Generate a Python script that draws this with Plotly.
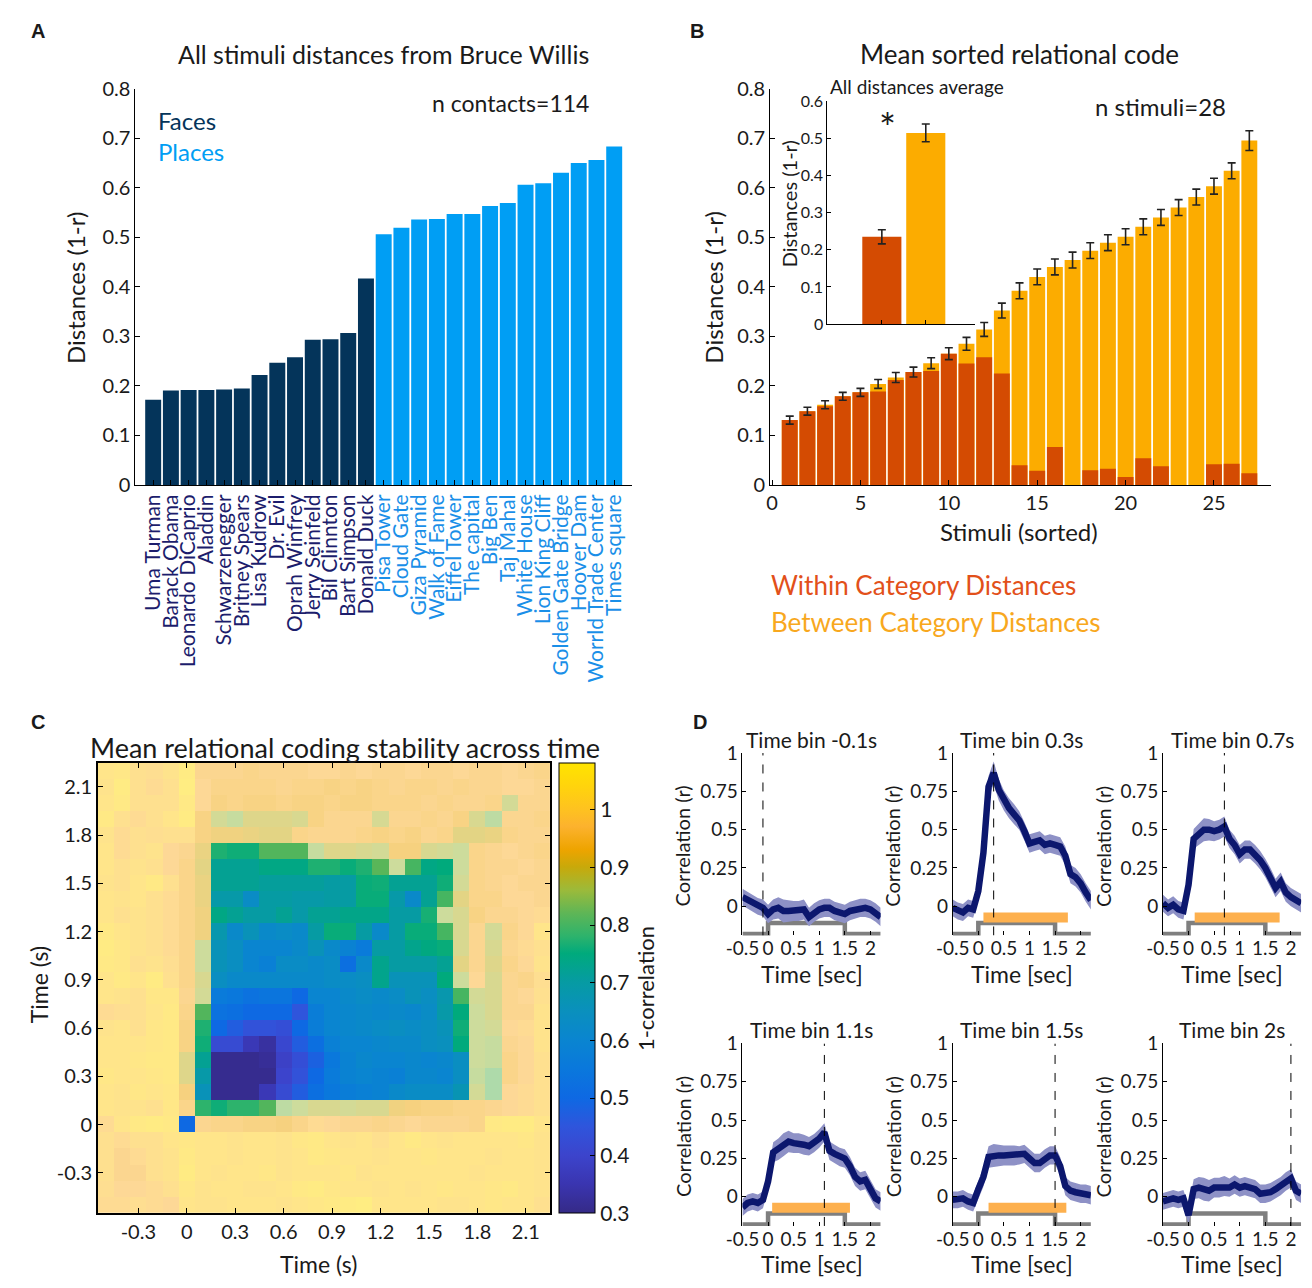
import plotly.graph_objects as go

PAGE_W, PAGE_H = 1312, 1288
OFF = 0
FW, FH = PAGE_W - 2 * OFF, PAGE_H - 2 * OFF
FONT = "Lato"
INK = "#1a1a1a"

# ---------------- Panel A data ----------------
a_names = ["Uma Turman", "Barack Obama", "Leonardo DiCaprio", "Aladdin", "Schwarzenegger",
           "Britney Spears", "Lisa Kudrow", "Dr. Evil", "Oprah Winfrey", "Jerry Seinfeld",
           "Bil Clinnton", "Bart Simpson", "Donald Duck", "Pisa Tower", "Cloud Gate",
           "Giza Pyramid", "Walk of Fame", "Eiffel Tower", "The capital", "Big Ben",
           "Taj Mahal", "White House", "Lion King Cliff", "Golden Gate Bridge", "Hoover Dam",
           "Worrld Trade Center", "Times square"]
a_category = ["Faces", "Faces", "Faces", "Faces", "Faces", "Faces", "Faces", "Faces", "Faces",
              "Faces", "Faces", "Faces", "Faces", "Places", "Places", "Places", "Places",
              "Places", "Places", "Places", "Places", "Places", "Places", "Places", "Places",
              "Places", "Places"]
a_distances = [0.172, 0.191, 0.192, 0.192, 0.193, 0.195, 0.222, 0.247, 0.258, 0.293, 0.294,
               0.307, 0.417, 0.506, 0.519, 0.536, 0.537, 0.547, 0.547, 0.563, 0.569, 0.606,
               0.609, 0.630, 0.650, 0.656, 0.683]
a_yticks = [0, 0.1, 0.2, 0.3, 0.4, 0.5, 0.6, 0.7, 0.8]

# ---------------- Panel B data ----------------
b_stimuli = [1, 2, 3, 4, 5, 6, 7, 8, 9, 10, 11, 12, 13, 14, 15, 16, 17, 18, 19, 20,
             21, 22, 23, 24, 25, 26, 27]
b_between = [0.131, 0.149, 0.162, 0.179, 0.187, 0.204, 0.217, 0.228, 0.246, 0.265, 0.285,
             0.314, 0.352, 0.392, 0.420, 0.440, 0.454, 0.473, 0.489, 0.501, 0.521, 0.540,
             0.560, 0.581, 0.603, 0.634, 0.695]
b_within = [0.131, 0.149, 0.159, 0.179, 0.187, 0.189, 0.212, 0.228, 0.230, 0.265, 0.245,
            0.258, 0.225, 0.040, 0.029, 0.077, 0.0, 0.030, 0.033, 0.016, 0.054, 0.038,
            0.0, 0.0, 0.042, 0.043, 0.024]
b_err = [0.008, 0.008, 0.008, 0.008, 0.008, 0.009, 0.010, 0.010, 0.011, 0.012, 0.013, 0.014,
         0.015, 0.016, 0.016, 0.016, 0.016, 0.016, 0.016, 0.016, 0.016, 0.016, 0.016, 0.016,
         0.016, 0.016, 0.020]
b_xticks = [0, 5, 10, 15, 20, 25]

inset_groups = [1, 2]
inset_values = [0.235, 0.515]
inset_err = [0.019, 0.024]
inset_yticks = [0, 0.1, 0.2, 0.3, 0.4, 0.5, 0.6]

# ---------------- Panel C data ----------------
time_bins = [-0.5, -0.4, -0.3, -0.2, -0.1, 0.0, 0.1, 0.2, 0.3, 0.4, 0.5, 0.6, 0.7, 0.8,
             0.9, 1.0, 1.1, 1.2, 1.3, 1.4, 1.5, 1.6, 1.7, 1.8, 1.9, 2.0, 2.1, 2.2]
c_ticks = [-0.3, 0, 0.3, 0.6, 0.9, 1.2, 1.5, 1.8, 2.1]
c_ticklabels = ["-0.3", "0", "0.3", "0.6", "0.9", "1.2", "1.5", "1.8", "2.1"]
# rows from time 2.2 (top) down to -0.5 (bottom); columns -0.5 ... 2.2
stability = [
    [1.02,1.03,1.00,0.99,1.01,1.05,0.96,0.96,0.96,0.95,0.96,0.96,0.96,0.97,0.97,0.96,0.97,0.96,0.96,0.97,0.96,0.96,0.97,0.96,0.96,0.97,0.96,0.95],
    [1.01,1.05,1.00,0.98,1.00,1.06,0.97,0.95,0.95,0.95,0.95,0.96,0.95,0.95,0.94,0.95,0.94,0.95,0.96,0.95,0.95,0.96,0.95,0.96,0.96,0.97,0.97,0.96],
    [1.02,1.04,1.00,1.00,1.00,1.04,0.97,0.94,0.95,0.94,0.94,0.95,0.94,0.94,0.95,0.94,0.94,0.95,0.95,0.95,0.96,0.95,0.96,0.96,0.95,0.87,0.96,0.96],
    [1.04,1.00,0.98,1.00,1.02,1.05,0.94,0.87,0.85,0.89,0.89,0.89,0.88,0.94,0.96,0.96,0.96,0.875,0.96,0.96,0.95,0.96,0.94,0.88,0.84,0.96,0.96,0.95],
    [1.01,0.98,1.00,0.99,1.00,1.00,0.94,0.92,0.92,0.91,0.90,0.90,0.95,0.96,0.96,0.96,0.95,0.94,0.95,0.94,0.96,0.95,0.90,0.90,0.91,0.95,0.96,0.96],
    [1.02,0.98,1.00,1.01,0.97,0.96,0.91,0.77,0.76,0.76,0.81,0.81,0.81,0.85,0.89,0.89,0.88,0.87,0.93,0.93,0.88,0.87,0.86,0.95,0.96,0.97,0.96,0.95],
    [1.02,1.00,1.01,1.00,0.97,0.95,0.90,0.72,0.72,0.72,0.74,0.74,0.74,0.77,0.77,0.755,0.77,0.815,0.86,0.80,0.74,0.75,0.86,0.95,0.96,0.96,0.97,0.96],
    [1.01,1.00,1.02,1.04,1.00,0.95,0.91,0.72,0.72,0.72,0.71,0.71,0.71,0.71,0.70,0.70,0.755,0.76,0.72,0.72,0.72,0.76,0.87,0.95,0.96,0.97,0.96,0.96],
    [1.02,1.01,1.02,1.00,0.98,0.95,0.91,0.69,0.69,0.63,0.70,0.70,0.69,0.69,0.70,0.70,0.755,0.755,0.69,0.62,0.72,0.80,0.90,0.95,0.95,0.97,0.97,0.96],
    [1.02,1.00,1.01,1.00,0.98,0.95,0.92,0.74,0.72,0.70,0.70,0.72,0.69,0.72,0.72,0.735,0.735,0.735,0.70,0.70,0.765,0.86,0.88,0.94,0.96,0.96,0.97,0.98],
    [1.04,1.02,1.01,1.00,0.98,0.95,0.92,0.68,0.62,0.66,0.62,0.63,0.62,0.70,0.755,0.755,0.70,0.62,0.70,0.755,0.755,0.80,0.88,0.96,0.87,0.95,0.97,1.02],
    [1.05,1.03,1.01,1.00,0.98,0.95,0.86,0.66,0.64,0.60,0.60,0.60,0.62,0.66,0.62,0.59,0.56,0.70,0.70,0.73,0.745,0.755,0.88,0.96,0.88,0.96,0.98,1.00],
    [1.04,1.03,1.00,1.01,0.99,0.95,0.86,0.66,0.64,0.60,0.58,0.63,0.63,0.62,0.63,0.52,0.62,0.73,0.70,0.70,0.70,0.72,0.90,0.96,0.89,0.95,0.97,1.01],
    [1.02,1.04,1.02,1.05,1.00,0.95,0.88,0.64,0.62,0.62,0.62,0.62,0.62,0.62,0.63,0.63,0.64,0.73,0.66,0.66,0.66,0.75,0.86,0.97,0.88,0.96,0.95,0.99],
    [1.02,1.01,1.00,1.03,1.03,0.96,0.87,0.56,0.55,0.53,0.54,0.54,0.50,0.60,0.60,0.62,0.63,0.62,0.63,0.66,0.64,0.68,0.80,0.87,0.88,0.96,0.97,1.00],
    [0.98,0.99,1.00,1.02,1.04,0.95,0.81,0.53,0.52,0.50,0.50,0.50,0.45,0.57,0.60,0.61,0.62,0.61,0.62,0.61,0.63,0.69,0.75,0.86,0.88,0.96,0.96,1.01],
    [1.01,1.02,1.00,1.03,1.04,0.94,0.77,0.50,0.47,0.44,0.44,0.43,0.50,0.57,0.60,0.61,0.62,0.63,0.64,0.63,0.64,0.66,0.76,0.86,0.87,0.97,0.98,1.01],
    [1.02,1.02,1.02,1.03,1.04,0.94,0.76,0.42,0.42,0.36,0.33,0.41,0.47,0.52,0.58,0.60,0.60,0.61,0.62,0.62,0.64,0.65,0.75,0.86,0.85,0.96,0.97,1.01],
    [1.02,1.02,1.03,1.04,1.04,0.89,0.72,0.31,0.31,0.31,0.32,0.39,0.43,0.48,0.55,0.59,0.61,0.60,0.60,0.61,0.60,0.61,0.64,0.86,0.85,0.95,0.97,1.00],
    [1.03,1.02,1.02,1.03,1.04,0.89,0.69,0.31,0.31,0.31,0.31,0.40,0.44,0.50,0.56,0.59,0.60,0.59,0.58,0.61,0.61,0.60,0.64,0.85,0.82,0.95,0.97,1.00],
    [1.02,1.01,1.03,1.02,1.03,0.93,0.66,0.31,0.31,0.31,0.36,0.42,0.47,0.52,0.55,0.57,0.58,0.59,0.62,0.63,0.63,0.63,0.67,0.87,0.82,0.97,0.98,1.00],
    [1.02,1.01,1.01,1.00,1.03,0.95,0.78,0.76,0.78,0.78,0.81,0.84,0.86,0.88,0.88,0.87,0.88,0.88,0.92,0.93,0.94,0.94,0.95,0.95,0.96,0.97,0.98,1.00],
    [0.98,1.02,1.04,1.05,1.04,0.50,0.96,0.95,0.95,0.94,0.94,0.93,0.95,0.98,0.97,0.96,0.96,0.95,0.96,0.97,0.96,0.96,0.96,0.95,1.04,1.05,1.05,1.02],
    [1.00,0.98,1.00,1.00,1.02,1.03,1.02,1.02,1.01,1.02,1.02,1.01,1.03,1.04,1.02,1.01,1.02,1.00,1.02,1.04,1.02,1.01,1.02,1.02,1.02,1.02,1.03,1.01],
    [1.00,0.96,0.98,1.00,1.01,1.04,1.02,1.02,1.01,1.02,1.02,1.01,1.02,1.04,1.03,1.02,1.02,1.01,1.02,1.02,1.03,1.02,1.02,1.02,1.01,1.02,1.02,1.01],
    [1.00,0.96,0.96,1.00,1.01,1.05,1.02,1.01,1.02,1.02,1.03,1.01,1.02,1.02,1.02,1.03,1.01,1.02,1.02,1.02,1.02,1.02,1.02,1.01,1.02,1.02,1.02,1.01],
    [0.99,0.97,0.97,0.98,1.00,1.03,1.01,1.02,1.02,1.01,1.01,1.02,1.04,1.05,1.03,1.02,1.02,1.01,1.02,1.01,1.02,1.03,1.02,1.02,1.03,1.04,1.02,1.01],
    [0.98,0.98,0.99,0.98,0.97,1.02,1.01,1.01,1.02,1.02,1.02,1.01,1.02,1.03,1.04,1.05,1.06,1.02,1.02,1.02,1.02,1.01,1.01,1.02,1.03,1.02,1.02,1.00],
]
# significance mask (1 = significant cell, drawn opaque), same row order
significant = [
    "0000000000000000000000000000",
    "0000000000000000000000000000",
    "0000000000000000000000000000",
    "0000000000000000000000000000",
    "0000000000000000000000000000",
    "0000000111111000000000000000",
    "0000000111111111110111000000",
    "0000000111111111111111000000",
    "0000000111111111111111000000",
    "0000000111111111111110000000",
    "0000000111111111111111000000",
    "0000000111111111111111000000",
    "0000000111111111111111000000",
    "0000000111111111111111000000",
    "0000000111111111111111100000",
    "0000001111111111111111100000",
    "0000001111111111111111100000",
    "0000001111111111111111100000",
    "0000001111111111111111100000",
    "0000001111111111111111100000",
    "0000001111111111111111100000",
    "0000001111100000000000000000",
    "0000010000000000000000000000",
    "0000000000000000000000000000",
    "0000000000000000000000000000",
    "0000000000000000000000000000",
    "0000000000000000000000000000",
    "0000000000000000000000000000",
]
cbar_ticks = [0.3, 0.4, 0.5, 0.6, 0.7, 0.8, 0.9, 1.0]
cbar_ticklabels = ["0.3", "0.4", "0.5", "0.6", "0.7", "0.8", "0.9", "1"]

# ---------------- Panel D data ----------------
d_titles = ["Time bin -0.1s", "Time bin 0.3s", "Time bin 0.7s",
            "Time bin 1.1s", "Time bin 1.5s", "Time bin 2s"]
d_bin_time = [-0.1, 0.3, 0.7, 1.1, 1.5, 2.0]
d_corr = [
    [0.06, 0.04, 0.02, 0.00, -0.01, -0.05, -0.02, -0.01, -0.03, -0.03, -0.03, -0.03, -0.02, -0.07,
     -0.04, -0.02, -0.01, -0.01, -0.03, -0.04, -0.05, -0.03, -0.02, -0.01, -0.01, -0.02, -0.04, -0.07],
    [-0.01, -0.03, -0.04, -0.01, -0.02, 0.10, 0.35, 0.78, 0.87, 0.76, 0.69, 0.64, 0.60, 0.56,
     0.49, 0.41, 0.42, 0.43, 0.40, 0.41, 0.40, 0.39, 0.33, 0.21, 0.19, 0.15, 0.09, 0.04],
    [0.02, -0.01, 0.01, -0.02, -0.03, 0.14, 0.44, 0.47, 0.50, 0.50, 0.49, 0.50, 0.52, 0.44,
     0.40, 0.34, 0.37, 0.37, 0.34, 0.30, 0.25, 0.19, 0.12, 0.16, 0.09, 0.06, 0.04, 0.02],
    [-0.07, -0.04, -0.03, -0.04, -0.02, 0.10, 0.29, 0.31, 0.34, 0.36, 0.35, 0.35, 0.34, 0.33,
     0.35, 0.38, 0.42, 0.30, 0.28, 0.26, 0.25, 0.20, 0.13, 0.10, 0.11, 0.05, -0.01, -0.03],
    [-0.02, -0.02, -0.01, -0.03, -0.04, 0.05, 0.13, 0.26, 0.27, 0.27, 0.27, 0.27, 0.27, 0.27,
     0.28, 0.25, 0.22, 0.22, 0.25, 0.27, 0.27, 0.20, 0.07, 0.04, 0.03, 0.02, 0.02, 0.01],
    [-0.03, -0.02, -0.01, -0.02, -0.01, -0.12, 0.05, 0.06, 0.05, 0.04, 0.06, 0.06, 0.07, 0.06,
     0.08, 0.06, 0.07, 0.06, 0.05, 0.02, 0.02, 0.03, 0.05, 0.07, 0.10, 0.12, 0.04, 0.02],
]
d_ci_half = [0.055, 0.055, 0.055, 0.055, 0.055, 0.06, 0.065, 0.07, 0.075, 0.07, 0.065, 0.065,
             0.065, 0.06, 0.06, 0.06, 0.06, 0.06, 0.06, 0.06, 0.06, 0.06, 0.06, 0.06, 0.06,
             0.06, 0.06, 0.06]
d_sig_start = [None, 0.10, 0.12, 0.08, 0.20, None]
d_sig_end = [None, 1.75, 1.78, 1.60, 1.72, None]
stim_on, stim_off = 0.0, 1.5
d_xticks = [-0.5, 0, 0.5, 1, 1.5, 2]
d_xticklabels = ["-0.5", "0", "0.5", "1", "1.5", "2"]
d_yticks = [0, 0.25, 0.5, 0.75, 1]
d_yticklabels = ["0", "0.25", "0.5", "0.75", "1"]

# ---------------- colours ----------------
FACE_COL = "#04345a"
PLACE_COL = "#009ef4"
FACE_TXT = "#1c1d6c"
PLACE_TXT = "#1a8fe8"
WITHIN_COL = "#d44b02"
BETWEEN_COL = "#fcac00"
LINE_COL = "#0c176e"
BAND_COL = "#8e91c6"
SIG_COL = "#fdb04e"
STIM_COL = "#7f7f7f"

colorscale = [
    [0.000, "#352a87"], [0.064, "#3a35b0"], [0.128, "#3c44cc"], [0.192, "#2f55dc"],
    [0.256, "#0e69e3"], [0.321, "#0a78dc"], [0.385, "#0a85d0"], [0.449, "#0a90bd"],
    [0.513, "#069ba3"], [0.577, "#00aa7c"], [0.615, "#2db36c"], [0.667, "#5fb656"],
    [0.718, "#9cba3a"], [0.769, "#c8a90a"], [0.808, "#eea400"], [0.859, "#fcb22e"],
    [0.897, "#fec220"], [0.949, "#ffd40c"], [1.000, "#ffe400"],
]


# helpers converting page pixel positions into paper coordinates
def xd(a, b):
    return [(a - OFF) / FW, (b - OFF) / FW]


def yd(top, bottom):
    return [1 - (bottom - OFF) / FH, 1 - (top - OFF) / FH]


def px(x):
    return (x - OFF) / FW


def py(y):
    return 1 - (y - OFF) / FH


annotations = []


def text(x, y, s, size, color=INK, xanchor="center", yanchor="middle", angle=0, family=FONT):
    annotations.append(dict(x=px(x), y=py(y), xref="paper", yref="paper", text=s,
                            showarrow=False, xanchor=xanchor, yanchor=yanchor,
                            textangle=angle, font=dict(size=size, color=color, family=family)))


fig = go.Figure()


def axis(size=20, **kw):
    d = dict(showline=True, linecolor="black", linewidth=1, ticks="inside", ticklen=5,
             tickcolor="black", showgrid=False, zeroline=False,
             tickfont=dict(family=FONT, size=size, color=INK))
    d.update(kw)
    return d


# ---------------- Panel A ----------------
a_colors = [FACE_COL if c == "Faces" else PLACE_COL for c in a_category]
a_ticktext = ["<span style='color:%s'>%s</span>" % (FACE_TXT if c == "Faces" else PLACE_TXT, n)
              for n, c in zip(a_names, a_category)]
a_pos = list(range(len(a_names)))
fig.add_trace(go.Bar(x=a_pos, y=a_distances, marker=dict(color=a_colors, line=dict(width=0)),
                     width=0.9, xaxis="x", yaxis="y", showlegend=False))

# ---------------- Panel B ----------------
fig.add_trace(go.Bar(x=b_stimuli, y=b_between, marker=dict(color=BETWEEN_COL, line=dict(width=0)),
                     width=0.9, xaxis="x2", yaxis="y2", showlegend=False))
fig.add_trace(go.Bar(x=b_stimuli, y=b_within, marker=dict(color=WITHIN_COL, line=dict(width=0)),
                     width=0.9, xaxis="x2", yaxis="y2", showlegend=False))
fig.add_trace(go.Scatter(x=b_stimuli, y=b_between, mode="markers",
                         marker=dict(size=1, color="rgba(0,0,0,0)"),
                         error_y=dict(type="data", array=b_err, color="#222222", thickness=1.6, width=4),
                         xaxis="x2", yaxis="y2", showlegend=False))
# inset
fig.add_trace(go.Bar(x=inset_groups, y=inset_values,
                     marker=dict(color=[WITHIN_COL, BETWEEN_COL], line=dict(width=0)),
                     width=0.89, xaxis="x3", yaxis="y3", showlegend=False))
fig.add_trace(go.Scatter(x=inset_groups, y=inset_values, mode="markers",
                         marker=dict(size=1, color="rgba(0,0,0,0)"),
                         error_y=dict(type="data", array=inset_err, color="#222222", thickness=1.6, width=4),
                         xaxis="x3", yaxis="y3", showlegend=False))

# ---------------- Panel C ----------------
rows_y = list(reversed(time_bins))
z_sig = [[v if m == "1" else None for v, m in zip(row, mask)] for row, mask in zip(stability, significant)]
fig.add_trace(go.Heatmap(x=time_bins, y=rows_y, z=stability, coloraxis="coloraxis", opacity=0.5,
                         xaxis="x4", yaxis="y4", zsmooth=False, hoverongaps=False))
fig.add_trace(go.Heatmap(x=time_bins, y=rows_y, z=z_sig, coloraxis="coloraxis",
                         xaxis="x4", yaxis="y4", zsmooth=False, hoverongaps=False))

# ---------------- Panel D ----------------
d_cols = [(735, 875), (948, 1088), (1161, 1301)]
d_rows = [(754, 940), (1050, 1236)]
D_XR = [-0.5, 2.2]
D_YR = [-0.19, 1.0]
STIM_LOW, STIM_HIGH = -0.18, -0.108
SIG_Y = -0.072

layout_axes = {}
for k in range(6):
    n = 5 + k
    xa, ya = "x%d" % n, "y%d" % n
    vals = d_corr[k]
    upper = [v + h for v, h in zip(vals, d_ci_half)]
    lower = [v - h for v, h in zip(vals, d_ci_half)]
    fig.add_trace(go.Scatter(x=[D_XR[0], stim_on, stim_on, stim_off, stim_off, D_XR[1]],
                             y=[STIM_LOW, STIM_LOW, STIM_HIGH, STIM_HIGH, STIM_LOW, STIM_LOW],
                             mode="lines", line=dict(color=STIM_COL, width=4.5),
                             xaxis=xa, yaxis=ya, showlegend=False, cliponaxis=False))
    if d_sig_start[k] is not None:
        fig.add_trace(go.Scatter(x=[d_sig_start[k], d_sig_end[k]], y=[SIG_Y, SIG_Y], mode="lines",
                                 line=dict(color=SIG_COL, width=10),
                                 xaxis=xa, yaxis=ya, showlegend=False))
    fig.add_trace(go.Scatter(x=time_bins + time_bins[::-1], y=upper + lower[::-1], fill="toself",
                             fillcolor=BAND_COL, line=dict(width=0), mode="lines",
                             xaxis=xa, yaxis=ya, showlegend=False))
    fig.add_trace(go.Scatter(x=time_bins, y=vals, mode="lines", line=dict(color=LINE_COL, width=6.5),
                             xaxis=xa, yaxis=ya, showlegend=False))
    fig.add_trace(go.Scatter(x=[d_bin_time[k], d_bin_time[k]], y=D_YR, mode="lines",
                             line=dict(color="black", width=1, dash="dash"),
                             xaxis=xa, yaxis=ya, showlegend=False))
    c0, c1 = d_cols[k % 3]
    r0, r1 = d_rows[k // 3]
    layout_axes["xaxis%d" % n] = axis(19, domain=xd(c0, c1), range=D_XR, tickvals=d_xticks,
                                      ticktext=d_xticklabels, showline=False, anchor=ya, ticklen=4,
                                      tickangle=0)
    layout_axes["yaxis%d" % n] = axis(19, domain=yd(r0, r1), range=D_YR, tickvals=d_yticks,
                                      ticktext=d_yticklabels, anchor=xa, ticklen=4)
    cx = (c0 + c1) / 2
    text(cx, r0 - 14, d_titles[k], 21)
    text(cx, r1 + 39, "Time [sec]", 23)
    text(c0 - 61, r0 + 95, "Correlation (r)", 20, angle=-90)

fig.update_layout(
    width=FW, height=FH, margin=dict(l=0, r=0, t=0, b=0),
    paper_bgcolor="white", plot_bgcolor="white",
    barmode="overlay", showlegend=False,
    font=dict(family=FONT, color=INK),
    xaxis=axis(21, domain=xd(120, 623), range=[-1, 27], tickvals=a_pos, ticktext=a_ticktext,
               tickangle=-90, anchor="y"),
    yaxis=axis(20, domain=yd(77, 481), range=[0, 0.8], tickvals=a_yticks, anchor="x"),
    xaxis2=axis(20, domain=xd(763, 1270), range=[-0.11, 28.2], tickvals=b_xticks, anchor="y2"),
    yaxis2=axis(20, domain=yd(77, 481), range=[0, 0.8], tickvals=a_yticks, anchor="x2"),
    xaxis3=axis(15, domain=xd(821, 971), range=[-0.24, 3.13], tickvals=inset_groups,
                showticklabels=False, ticklen=4, anchor="y3"),
    yaxis3=axis(16, domain=yd(90, 317), range=[0, 0.6], tickvals=inset_yticks, ticklen=4,
                anchor="x3"),
    xaxis4=axis(20, domain=xd(82, 540), range=[-0.55, 2.25], tickvals=c_ticks,
                ticktext=c_ticklabels, mirror="ticks", linewidth=1.5, anchor="y4"),
    yaxis4=axis(20, domain=yd(764, 1223), range=[-0.55, 2.25], tickvals=c_ticks,
                ticktext=c_ticklabels, mirror="ticks", linewidth=1.5, anchor="x4"),
    coloraxis=dict(colorscale=colorscale, cmin=0.3, cmax=1.08,
                   colorbar=dict(x=px(549), xanchor="left", y=py(994), yanchor="middle",
                                 len=459 / FH, lenmode="fraction", thickness=36,
                                 thicknessmode="pixels", xpad=0, ypad=0,
                                 outlinewidth=1, outlinecolor="black",
                                 tickvals=cbar_ticks, ticktext=cbar_ticklabels,
                                 ticks="inside", ticklen=5, tickcolor="black",
                                 tickfont=dict(family=FONT, size=21, color=INK),
                                 title=dict(text="1-correlation", side="right",
                                            font=dict(family=FONT, size=22, color=INK)))),
    **layout_axes,
)

# ---------------- Text ----------------
for letter, lx, ly in [("A", 12, 18), ("B", 680, 18), ("C", 12, 722), ("D", 683, 722)]:
    text(lx, ly, "<b>%s</b>" % letter, 20, xanchor="left", family="Liberation Sans")

text(371, 42, "All stimuli distances from Bruce Willis", 25)
text(60, 280, "Distances (1-r)", 24, angle=-90)
text(141, 110, "Faces", 24, color=FACE_COL, xanchor="left")
text(141, 141, "Places", 24, color=PLACE_COL, xanchor="left")
text(418, 92, "n contacts=114", 23, xanchor="left")

text(1016, 42, "Mean sorted relational code", 26)
text(706, 280, "Distances (1-r)", 24, angle=-90)
text(1015, 528, "Stimuli (sorted)", 24)
text(1090, 95, "n stimuli=28", 24, xanchor="left")
text(822, 75, "All distances average", 19, xanchor="left")
text(783, 194, "Distances (1-r)", 20, angle=-90)
text(882, 117, "*", 40)
text(762, 583, "Within Category Distances", 26, color="#e2501a", xanchor="left")
text(762, 621, "Between Category Distances", 26, color="#f8a81e", xanchor="left")

text(332, 748, "Mean relational coding stability across time", 27)
text(22, 990, "Time (s)", 23, angle=-90)
text(305, 1275, "Time (s)", 23)

fig.update_layout(annotations=annotations)
fig.write_html("out.html", post_script="document.body.style.margin='0px';")
